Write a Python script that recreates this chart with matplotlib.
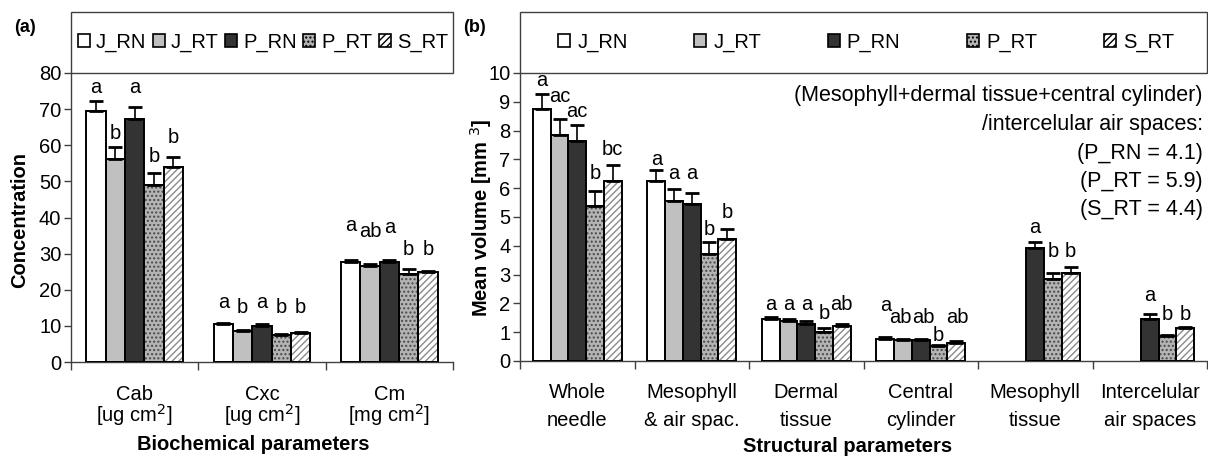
import numpy as np
import matplotlib
matplotlib.use("Agg")
import matplotlib.pyplot as plt
from matplotlib.patches import Patch, Rectangle

plt.rcParams['font.family'] = ['Liberation Sans', 'DejaVu Sans']
plt.rcParams['hatch.linewidth'] = 1.0

# ---------------- data ----------------
series = ["J_RN", "J_RT", "P_RN", "P_RT", "S_RT"]

cat_a_top = ["Cab", "Cxc", "Cm"]
cat_a_bot = ["[ug cm$^{2}$]", "[ug cm$^{2}$]", "[mg cm$^{2}$]"]
vals_a = {
    "J_RN": [69.5, 10.5, 27.8],
    "J_RT": [56.2, 8.5, 26.7],
    "P_RN": [67.2, 10.0, 27.8],
    "P_RT": [49.0, 7.4, 24.4],
    "S_RT": [54.0, 7.9, 24.9],
}
err_a = {
    "J_RN": [2.8, 0.2, 0.4],
    "J_RT": [3.3, 0.4, 0.4],
    "P_RN": [3.3, 0.4, 0.4],
    "P_RT": [3.2, 0.4, 1.3],
    "S_RT": [2.8, 0.3, 0.4],
}
letters_a = {
    "J_RN": ["a", "a", "a"],
    "J_RT": ["b", "b", "ab"],
    "P_RN": ["a", "a", "a"],
    "P_RT": ["b", "b", "b"],
    "S_RT": ["b", "b", "b"],
}
letter_y_a = {
    "J_RN": [76.0, 16.5, 37.8],
    "J_RT": [63.3, 15.0, 36.2],
    "P_RN": [76.0, 16.5, 37.2],
    "P_RT": [56.9, 15.0, 31.1],
    "S_RT": [62.2, 15.0, 31.1],
}

nan = np.nan
cat_b_top = ["Whole", "Mesophyll", "Dermal", "Central", "Mesophyll", "Intercelular"]
cat_b_bot = ["needle", "& air spac.", "tissue", "cylinder", "tissue", "air spaces"]
vals_b = {
    "J_RN": [8.75, 6.24, 1.45, 0.78, nan, nan],
    "J_RT": [7.84, 5.55, 1.40, 0.72, nan, nan],
    "P_RN": [7.63, 5.44, 1.28, 0.72, 3.93, 1.46],
    "P_RT": [5.37, 3.71, 0.99, 0.52, 2.85, 0.87],
    "S_RT": [6.24, 4.25, 1.22, 0.64, 3.07, 1.14],
}
err_b = {
    "J_RN": [0.53, 0.40, 0.07, 0.07, nan, nan],
    "J_RT": [0.57, 0.41, 0.05, 0.03, nan, nan],
    "P_RN": [0.55, 0.39, 0.12, 0.05, 0.21, 0.16],
    "P_RT": [0.52, 0.41, 0.15, 0.05, 0.22, 0.05],
    "S_RT": [0.58, 0.35, 0.06, 0.06, 0.21, 0.04],
}
letters_b = {
    "J_RN": ["a", "a", "a", "a", "", ""],
    "J_RT": ["ac", "a", "a", "ab", "", ""],
    "P_RN": ["ac", "a", "a", "ab", "a", "a"],
    "P_RT": ["b", "b", "b", "b", "b", "b"],
    "S_RT": ["bc", "b", "ab", "ab", "b", "b"],
}
letter_y_b = {
    "J_RN": [9.75, 7.0, 1.95, 1.91, nan, nan],
    "J_RT": [9.2, 6.5, 1.95, 1.52, nan, nan],
    "P_RN": [8.67, 6.5, 1.95, 1.52, 4.65, 2.27],
    "P_RT": [6.5, 4.58, 1.66, 0.90, 3.8, 1.6],
    "S_RT": [7.35, 5.16, 1.95, 1.52, 3.8, 1.6],
}
# small horizontal nudges of letter labels (category units)
letter_dx_b = {
    "J_RN": [0, 0, 0, 0, 0, 0],
    "J_RT": [0, 0, 0, -0.025, 0, 0],
    "P_RN": [0, 0, 0, 0.02, 0, 0],
    "P_RT": [0, 0, 0, 0, 0, 0],
    "S_RT": [0, 0, 0, 0.01, 0, 0],
}
ratio_lines = ["(Mesophyll+dermal tissue+central cylinder)",
               "/intercelular air spaces:",
               "(P_RN = 4.1)", "(P_RT = 5.9)", "(S_RT = 4.4)"]

# ---------------- styles ----------------
style = {
    "J_RN": dict(fc="white", hatch=None, hc="black"),
    "J_RT": dict(fc="#c0c0c0", hatch=None, hc="black"),
    "P_RN": dict(fc="#333333", hatch=None, hc="black"),
    "P_RT": dict(fc="#b4b4b4", hatch="....", hc="#4a4a4a"),
    "S_RT": dict(fc="white", hatch="/////", hc="#8a8a8a"),
}

W, H = 1208, 457
fig = plt.figure(figsize=(W / 100, H / 100), dpi=100)


def fx(px):
    return px / W


def fy(py):
    return 1 - py / H


FS = 14.5
SPINE = "#404040"


def draw_panel(ax, cats, vals, errs, letters, letter_y, letter_dx, bw,
               ymax, yticks):
    n = len(cats)
    x = np.arange(n)
    for i, s in enumerate(series):
        xs = x + (i - 2) * bw
        v = np.array(vals[s], dtype=float)
        st = style[s]
        ax.bar(xs, v, width=bw, color=st["fc"], edgecolor=st["hc"],
               hatch=st["hatch"], linewidth=0, zorder=2)
        ax.bar(xs, v, width=bw, fill=False, edgecolor="black",
               linewidth=1.4, zorder=3)
        e = np.array(errs[s], dtype=float)
        ax.errorbar(xs, v, yerr=[np.zeros_like(e), e], fmt="none",
                    ecolor="black", elinewidth=1.2, capsize=5, capthick=2,
                    zorder=4)
        for j in range(n):
            if letters[s][j] and not np.isnan(letter_y[s][j]):
                dx = letter_dx[s][j] if letter_dx else 0
                ax.text(xs[j] + dx, letter_y[s][j], letters[s][j],
                        ha="center", va="center", fontsize=FS, zorder=5)
    ax.set_xlim(-0.5, n - 0.5)
    ax.set_ylim(0, ymax)
    ax.set_yticks(yticks)
    ax.set_yticklabels([str(t) for t in yticks], fontsize=FS)
    ax.tick_params(axis="y", direction="out", length=5, width=1,
                   color=SPINE, pad=2)
    ax.set_xticks(np.arange(n + 1) - 0.5)
    ax.set_xticklabels([])
    ax.tick_params(axis="x", direction="out", length=6, width=1,
                   color=SPINE)
    for sp in ["top", "right"]:
        ax.spines[sp].set_visible(False)
    for sp in ["left", "bottom"]:
        ax.spines[sp].set_color(SPINE)
        ax.spines[sp].set_linewidth(1)


# panel (a)
ax_a = fig.add_axes([fx(71), fy(362), fx(453 - 71), (362 - 73) / H])
draw_panel(ax_a, cat_a_top, vals_a, err_a, letters_a, letter_y_a, None,
           0.152, 80, list(range(0, 81, 10)))
for j in range(len(cat_a_top)):
    xc = ax_a.transData.transform((j, 0))[0]
    xf = xc / fig.bbox.width
    fig.text(xf, fy(395), cat_a_top[j], ha="center", va="center", fontsize=FS)
    fig.text(xf, fy(415), cat_a_bot[j], ha="center", va="center", fontsize=FS)

# panel (b)
ax_b = fig.add_axes([fx(520), fy(361), fx(1207 - 520), (361 - 73) / H])
draw_panel(ax_b, cat_b_top, vals_b, err_b, letters_b, letter_y_b,
           letter_dx_b, 0.155, 10, list(range(0, 11)))
for j in range(len(cat_b_top)):
    xc = ax_b.transData.transform((j, 0))[0]
    xf = xc / fig.bbox.width
    fig.text(xf, fy(393), cat_b_top[j], ha="center", va="center", fontsize=FS)
    fig.text(xf, fy(421), cat_b_bot[j], ha="center", va="center", fontsize=FS)

# axis titles
fig.text(fx(253), fy(445), "Biochemical parameters", ha="center",
         va="center", fontsize=FS, fontweight="bold")
fig.text(fx(848), fy(446), "Structural parameters", ha="center",
         va="center", fontsize=FS, fontweight="bold")
fig.text(fx(20), fy(220), "Concentration", ha="center", va="center",
         rotation=90, fontsize=FS, fontweight="bold")
fig.text(fx(481), fy(218), "Mean volume [mm $^{3}$]", ha="center",
         va="center", rotation=90, fontsize=FS, fontweight="bold")
fig.text(fx(25), fy(28), "(a)", ha="center", va="center", fontsize=13,
         fontweight="bold")
fig.text(fx(475), fy(28), "(b)", ha="center", va="center", fontsize=13,
         fontweight="bold")

# ratio annotation
for k, line in enumerate(ratio_lines):
    fig.text(fx(1203), fy(96 + 28.5 * k), line, ha="right", va="center",
             fontsize=15.5)

# legend boxes
fig.add_artist(Rectangle((fx(71), fy(73)), fx(453 - 71), (73 - 12) / H,
                         transform=fig.transFigure, fill=False,
                         edgecolor=SPINE, linewidth=1))
fig.add_artist(Rectangle((fx(520), fy(73)), fx(1207 - 520), (73 - 12) / H,
                         transform=fig.transFigure, fill=False,
                         edgecolor=SPINE, linewidth=1))


def handles():
    hs = []
    for s in series:
        st = style[s]
        hs.append(Patch(facecolor=st["fc"], edgecolor="black",
                        hatch=st["hatch"], linewidth=1.2, label=s))
    return hs


fig.legend(handles=handles(), loc="center", ncol=5, frameon=False,
           bbox_to_anchor=(fx(263), fy(42)), fontsize=FS,
           handlelength=0.6, handleheight=0.6, handletextpad=0.3,
           columnspacing=0.32, borderpad=0, borderaxespad=0)
fig.legend(handles=handles(), loc="center", ncol=5, frameon=False,
           bbox_to_anchor=(fx(866), fy(42)), fontsize=FS,
           handlelength=0.6, handleheight=0.6, handletextpad=0.35,
           columnspacing=3.3, borderpad=0, borderaxespad=0)

fig.savefig("out.png", dpi=100)
